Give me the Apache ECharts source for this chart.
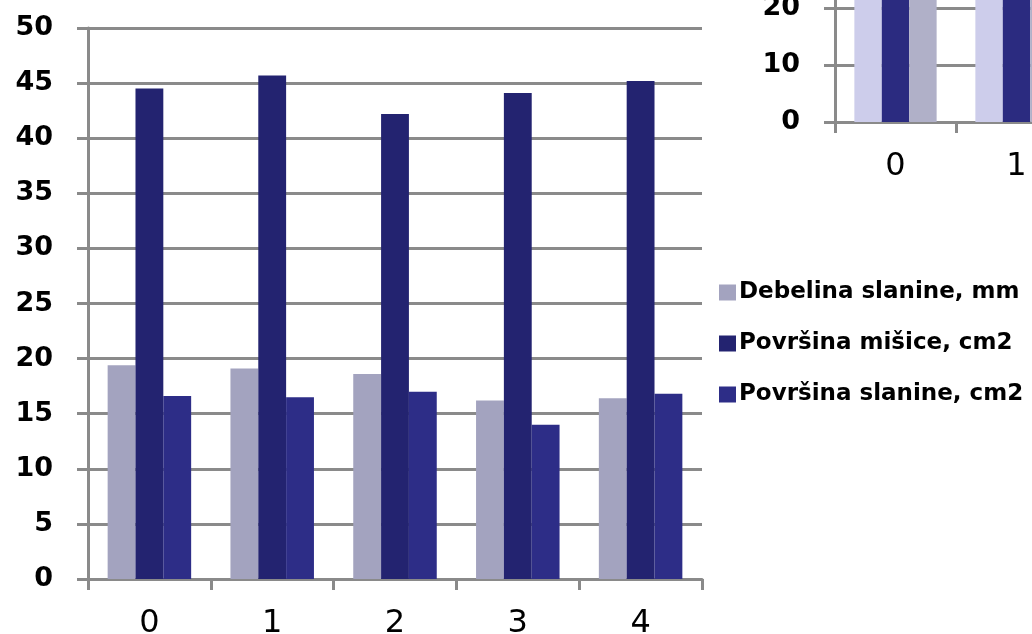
<!DOCTYPE html>
<html>
<head>
<meta charset="utf-8">
<script src="https://cdn.jsdelivr.net/npm/echarts@6/dist/echarts.min.js"></script>
<style>html,body{margin:0;padding:0;background:#fff;}#c{width:1032px;height:634px;}</style>
</head>
<body>
<div id="c"></div>
<script>
const categories = ['0', '1', '2', '3', '4'];
const seriesNames = ['Debelina slanine, mm', 'Površina mišice, cm2', 'Površina slanine, cm2'];
const debelinaSlanine = [19.4, 19.1, 18.6, 16.2, 16.4];
const povrsinaMisice = [44.5, 45.7, 42.2, 44.1, 45.2];
const povrsinaSlanine = [16.6, 16.5, 17.0, 14.0, 16.8];
const yTicksMain = { min: 0, max: 50, interval: 5 };

// partially visible inset chart (top right)
const insetCategories = ['0', '1'];
const insetA = [38, 40];
const insetB = [44, 46];
const insetC = [30, 31];
const yTicksInset = { min: 0, max: 30, interval: 10 };

const gridColor = '#8a8a8a';
const yLabelStyle = { color: '#000', fontFamily: 'DejaVu Sans', fontWeight: 'bold', fontSize: 27, margin: 35 };
const xLabelStyle = { color: '#000', fontFamily: 'DejaVu Sans', fontSize: 32, margin: 29 };

const chart = echarts.init(document.getElementById('c'), null, { renderer: 'canvas' });
chart.setOption({
  animation: false,
  backgroundColor: '#fff',
  grid: [
    { left: 88, right: 330, top: 28, bottom: 55, outerBoundsMode: 'none', containLabel: false },
    { left: 835, width: 242, top: -49, height: 171, outerBoundsMode: 'none', containLabel: false }
  ],
  legend: {
    data: seriesNames,
    orient: 'vertical',
    left: 714,
    top: 276,
    itemWidth: 17,
    itemHeight: 16,
    itemGap: 28,
    icon: 'rect',
    textStyle: { color: '#000', fontFamily: 'DejaVu Sans', fontWeight: 'bold', fontSize: 23, padding: [0, 0, 0, -2] }
  },
  xAxis: [
    {
      type: 'category', data: categories, gridIndex: 0,
      axisLine: { lineStyle: { color: gridColor, width: 3 } },
      axisTick: { show: true, length: 11, lineStyle: { color: gridColor, width: 3 } },
      axisLabel: xLabelStyle
    },
    {
      type: 'category', data: insetCategories, gridIndex: 1,
      axisLine: { lineStyle: { color: gridColor, width: 3 } },
      axisTick: { show: true, length: 11, lineStyle: { color: gridColor, width: 3 } },
      axisLabel: xLabelStyle
    }
  ],
  yAxis: [
    {
      type: 'value', gridIndex: 0, min: yTicksMain.min, max: yTicksMain.max, interval: yTicksMain.interval,
      axisLine: { show: true, lineStyle: { color: gridColor, width: 3 } },
      axisTick: { show: true, length: 11, lineStyle: { color: gridColor, width: 3 } },
      splitLine: { lineStyle: { color: gridColor, width: 3 } },
      axisLabel: yLabelStyle
    },
    {
      type: 'value', gridIndex: 1, min: yTicksInset.min, max: yTicksInset.max, interval: yTicksInset.interval,
      axisLine: { show: true, lineStyle: { color: gridColor, width: 3 } },
      axisTick: { show: true, length: 11, lineStyle: { color: gridColor, width: 3 } },
      splitLine: { lineStyle: { color: gridColor, width: 3 } },
      axisLabel: yLabelStyle
    }
  ],
  series: [
    { name: seriesNames[0], type: 'bar', xAxisIndex: 0, yAxisIndex: 0, data: debelinaSlanine, barGap: '0%', barCategoryGap: '32%', itemStyle: { color: '#a3a3bf' } },
    { name: seriesNames[1], type: 'bar', xAxisIndex: 0, yAxisIndex: 0, data: povrsinaMisice, barGap: '0%', barCategoryGap: '32%', itemStyle: { color: '#232370' } },
    { name: seriesNames[2], type: 'bar', xAxisIndex: 0, yAxisIndex: 0, data: povrsinaSlanine, barGap: '0%', barCategoryGap: '32%', itemStyle: { color: '#2d2d87' } },
    { name: 'insetA', type: 'bar', xAxisIndex: 1, yAxisIndex: 1, data: insetA, barGap: '0%', barCategoryGap: '32%', itemStyle: { color: '#cdcdeb' } },
    { name: 'insetB', type: 'bar', xAxisIndex: 1, yAxisIndex: 1, data: insetB, barGap: '0%', barCategoryGap: '32%', itemStyle: { color: '#2b2b80' } },
    { name: 'insetC', type: 'bar', xAxisIndex: 1, yAxisIndex: 1, data: insetC, barGap: '0%', barCategoryGap: '32%', itemStyle: { color: '#b0b0c8' } }
  ]
});
</script>
</body>
</html>
